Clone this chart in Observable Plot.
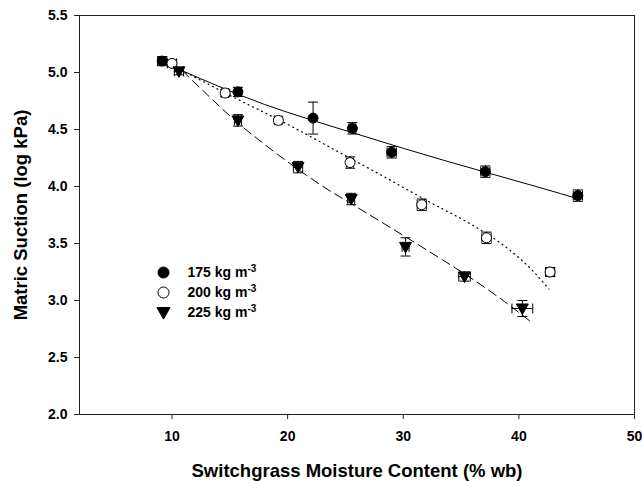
<!DOCTYPE html>
<html>
<head>
<meta charset="utf-8">
<script src="https://cdn.jsdelivr.net/npm/d3@7"></script>
<script src="https://cdn.jsdelivr.net/npm/@observablehq/plot@0.6"></script>
<style>
  html, body { margin: 0; padding: 0; background: #fff; }
  #chart { width: 642px; height: 481px; }
</style>
</head>
<body>
<div id="chart"></div>
<script>
// ---- data ----
const x175 = [9.15, 15.7, 22.2, 25.6, 29.0, 37.1, 45.1];
const y175 = [5.10, 4.83, 4.60, 4.51, 4.30, 4.13, 3.92];
const ye175 = [0.04, 0.04, 0.14, 0.05, 0.05, 0.05, 0.05];
const xe175 = [0.4, 0.3, 0.0, 0.3, 0.4, 0.4, 0.4];

const x200 = [10.0, 14.6, 19.2, 25.4, 31.6, 37.2, 42.7];
const y200 = [5.08, 4.82, 4.58, 4.21, 3.84, 3.55, 3.25];
const ye200 = [0.03, 0.03, 0.03, 0.05, 0.05, 0.05, 0.04];
const xe200 = [0.4, 0.3, 0.3, 0.3, 0.4, 0.4, 0.4];

const x225 = [10.6, 15.7, 20.9, 25.5, 30.2, 35.3, 40.3];
const y225 = [5.01, 4.58, 4.17, 3.89, 3.47, 3.21, 2.93];
const ye225 = [0.03, 0.05, 0.05, 0.05, 0.08, 0.04, 0.07];
const xe225 = [0.4, 0.3, 0.4, 0.3, 0.3, 0.5, 0.9];

const fit175x = [10.9, 14.0, 18.0, 22.0, 26.0, 30.0, 34.0, 38.0, 42.0, 45.2];
const fit175y = [5.015, 4.88, 4.72, 4.585, 4.46, 4.335, 4.215, 4.10, 3.985, 3.89];
const fit200x = [11.2, 15.0, 20.0, 25.0, 28.0, 32.3, 35.8, 38.1, 40.1, 41.3, 42.6];
const fit200y = [5.00, 4.80, 4.545, 4.27, 4.105, 3.862, 3.672, 3.526, 3.366, 3.25, 3.10];
const fit225x = [10.9, 13.0, 15.5, 18.0, 20.7, 23.3, 25.4, 28.0, 32.0, 36.1, 38.5, 41.2];
const fit225y = [5.015, 4.81, 4.575, 4.37, 4.165, 3.985, 3.855, 3.695, 3.445, 3.18, 3.01, 2.80];

const legendLabels = ["175 kg m-3", "200 kg m-3", "225 kg m-3"];
const xTicks = [10, 20, 30, 40, 50];
const yTicks = [2.0, 2.5, 3.0, 3.5, 4.0, 4.5, 5.0, 5.5];
const xTitle = "Switchgrass Moisture Content (% wb)";
const yTitle = "Matric Suction (log kPa)";

// ---- build tables ----
const pts = (xs, ys, yes, xes) => xs.map((x, i) => ({x, y: ys[i], ye: yes[i], xe: xes[i]}));
const fit = (xs, ys) => xs.map((x, i) => ({x, y: ys[i]}));
const s175 = pts(x175, y175, ye175, xe175);
const s200 = pts(x200, y200, ye200, xe200);
const s225 = pts(x225, y225, ye225, xe225);
const all = [...s175, ...s200, ...s225];

// custom symbols
const capH = { draw(ctx, size) { const w = Math.sqrt(size / Math.PI); ctx.moveTo(-w, 0); ctx.lineTo(w, 0); } };
const capV = { draw(ctx, size) { const w = Math.sqrt(size / Math.PI); ctx.moveTo(0, -w); ctx.lineTo(0, w); } };
const triDown = { draw(ctx, size) { const r = Math.sqrt(size / Math.PI); ctx.moveTo(-1.2 * r, -0.9 * r); ctx.lineTo(1.2 * r, -0.9 * r); ctx.lineTo(0, 1.2 * r); ctx.closePath(); } };

const ink = "#000";
const errMarks = (data) => {
  const xd = data.filter(d => d.xe > 0);
  return [
    Plot.ruleX(data, {x: "x", y1: d => d.y - d.ye, y2: d => d.y + d.ye, stroke: ink, strokeWidth: 1}),
    Plot.dot(data, {x: "x", y: d => d.y - d.ye, symbol: capH, r: 5, stroke: ink, strokeWidth: 1, fill: "none"}),
    Plot.dot(data, {x: "x", y: d => d.y + d.ye, symbol: capH, r: 5, stroke: ink, strokeWidth: 1, fill: "none"}),
    Plot.ruleY(xd, {y: "y", x1: d => d.x - d.xe, x2: d => d.x + d.xe, stroke: ink, strokeWidth: 1}),
    Plot.dot(xd, {x: d => d.x - d.xe, y: "y", symbol: capV, r: 5, stroke: ink, strokeWidth: 1, fill: "none"}),
    Plot.dot(xd, {x: d => d.x + d.xe, y: "y", symbol: capV, r: 5, stroke: ink, strokeWidth: 1, fill: "none"})
  ];
};

const legendMarks = [];
const legendSyms = [
  {symbol: "circle", fill: ink, stroke: ink},
  {symbol: "circle", fill: "#fff", stroke: ink},
  {symbol: triDown, fill: ink, stroke: ink}
];
legendLabels.forEach((lab, i) => {
  legendMarks.push(Plot.dot([lab], {frameAnchor: "top-left", dx: 84, dy: 257 + 20 * i, r: 5.5, strokeWidth: 1, ...legendSyms[i]}));
  legendMarks.push(Plot.text([lab], {frameAnchor: "top-left", dx: 108, dy: 257 + 20 * i, text: d => d, textAnchor: "start", lineAnchor: "middle", fontSize: 14, fontWeight: "bold", fill: ink}));
});

const chart = Plot.plot({
  width: 642,
  height: 481,
  marginTop: 15,
  marginRight: 8,
  marginBottom: 67,
  marginLeft: 79,
  style: {fontFamily: "'Liberation Sans', Arial, sans-serif", fontWeight: "bold", fontSize: "14px", color: "#000", background: "#fff"},
  x: {domain: [2, 50]},
  y: {domain: [2, 5.5]},
  marks: [
    Plot.frame({stroke: "#222", strokeWidth: 1}),
    Plot.axisX({ticks: xTicks, tickSize: 5, tickPadding: 12, label: null, fontSize: 14, fontWeight: "bold", stroke: "#222"}),
    Plot.axisY({ticks: yTicks, tickSize: 5, tickPadding: 7, label: null, tickFormat: d3.format(".1f"), fontSize: 14, fontWeight: "bold", stroke: "#222"}),
    Plot.line(fit(fit175x, fit175y), {x: "x", y: "y", curve: "monotone-x", stroke: ink, strokeWidth: 1}),
    Plot.line(fit(fit200x, fit200y), {x: "x", y: "y", curve: "monotone-x", stroke: ink, strokeWidth: 1.2, strokeDasharray: "1,4"}),
    Plot.line(fit(fit225x, fit225y), {x: "x", y: "y", curve: "monotone-x", stroke: ink, strokeWidth: 1, strokeDasharray: "9,5"}),
    ...errMarks(all),
    Plot.dot(s175, {x: "x", y: "y", r: 5, fill: ink, stroke: ink, strokeWidth: 1}),
    Plot.dot(s200, {x: "x", y: "y", r: 5, fill: "#fff", stroke: ink, strokeWidth: 1}),
    Plot.dot(s225, {x: "x", y: "y", r: 5, symbol: triDown, fill: ink, stroke: ink, strokeWidth: 1}),
    ...legendMarks,
    Plot.text([xTitle], {frameAnchor: "bottom", dy: 57, text: d => d, textAnchor: "middle", lineAnchor: "middle", fontSize: 18.5, fontWeight: "bold", fill: ink}),
    Plot.text([yTitle], {frameAnchor: "left", dx: -58, text: d => d, rotate: -90, textAnchor: "middle", lineAnchor: "middle", fontSize: 18.5, fontWeight: "bold", fill: ink})
  ]
});

document.getElementById("chart").appendChild(chart);

// superscript for legend units
d3.select(chart).selectAll("text").each(function () {
  const t = this.textContent;
  if (/kg m-3$/.test(t)) {
    const base = t.replace(/-3$/, "");
    const sel = d3.select(this);
    sel.text(null);
    sel.append("tspan").text(base);
    sel.append("tspan").attr("dy", "-0.45em").attr("font-size", "10px").text("-3");
  }
});
</script>
</body>
</html>
